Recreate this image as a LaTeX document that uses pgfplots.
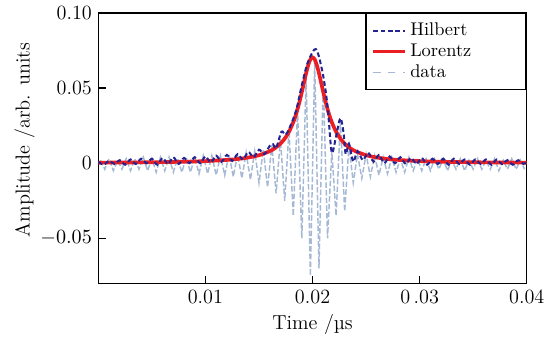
\documentclass[border=0pt]{standalone}
\usepackage{pgfplots}
\pgfplotsset{compat=1.18}
\definecolor{hilb}{RGB}{35,35,145}
\definecolor{lor}{RGB}{235,30,35}
\definecolor{dat}{RGB}{165,185,212}
\begin{document}
\begin{tikzpicture}
\begin{axis}[
  scale only axis,
  width=233pt, height=147pt,
  xmin=0, xmax=0.04, ymin=-0.08, ymax=0.10,
  xtick={0.01,0.02,0.03,0.04},
  xticklabels={0.01,0.02,{0\,.03},0.04},
  ytick={-0.05,0,0.05,0.1},
  yticklabels={$-0.05$,0,0.05,0.10},
  scaled ticks=false,
  tick align=inside,
  xtick pos=bottom, ytick pos=left,
  major tick length=4pt,
  axis line style={line width=0.7pt},
  every tick/.style={black, line width=0.7pt},
  tick label style={font=\fontsize{11}{13}\selectfont},
  label style={font=\fontsize{11}{13}\selectfont},
  xlabel={Time /µs},
  ylabel={Amplitude /arb. units},
  xlabel style={at={(axis description cs:0.5,0)}, anchor=center, yshift=-22.3pt},
  ylabel style={at={(axis description cs:-0.172,0.53)}, anchor=center, rotate=0},
  legend style={at={(1,1)}, anchor=north east, draw=black, line width=0.7pt,
    font=\fontsize{10}{12}\selectfont, inner sep=3pt, row sep=-1pt},
  legend cell align=left,
  clip=true,
]
\addlegendimage{hilb, line width=1.1pt, dash pattern=on 2.5pt off 1.5pt}
\addlegendentry{\makebox[58pt][l]{Hilbert}}
\addlegendimage{lor, line width=2pt}
\addlegendentry{Lorentz}
\addlegendimage{dat, line width=0.8pt, dash pattern=on 4pt off 4pt}
\addlegendentry{data}

% data
\addplot[dat, line width=0.8pt, dash pattern=on 3pt off 1.2pt, forget plot] coordinates {
(0.0002,0.002)(0.0006,-0.004)(0.0010,0.003)(0.0014,-0.005)(0.0018,0.002)
(0.0022,-0.004)(0.0026,0.003)(0.0030,-0.005)(0.0034,0.003)(0.0038,-0.004)
(0.0042,0.004)(0.0046,-0.005)(0.0050,0.003)(0.0054,-0.006)(0.0058,0.004)
(0.0062,-0.005)(0.0066,0.004)(0.0070,-0.006)(0.0074,0.003)(0.0078,-0.006)
(0.0082,0.004)(0.0086,-0.006)(0.0090,0.004)(0.0094,-0.007)(0.0098,0.005)
(0.0102,-0.007)(0.0106,0.005)(0.0110,-0.008)(0.0114,0.005)(0.0118,-0.008)
(0.0122,0.006)(0.0126,-0.009)(0.0130,0.006)(0.0134,-0.010)(0.0138,0.007)
(0.0142,-0.011)(0.0146,0.008)(0.0150,-0.013)(0.0154,0.009)(0.0158,-0.016)
(0.0162,0.012)(0.0166,-0.020)(0.0170,0.016)(0.0174,-0.025)(0.0178,0.022)
(0.0182,-0.035)(0.0186,0.035)(0.0190,-0.050)(0.0194,0.058)(0.0198,-0.075)
(0.0202,0.068)(0.0206,-0.070)(0.0210,0.055)(0.0214,-0.050)(0.0218,0.008)
(0.0222,-0.035)(0.0226,0.028)(0.0230,-0.032)(0.0234,0.012)(0.0238,-0.013)
(0.0242,0.006)(0.0246,-0.010)(0.0250,0.006)(0.0254,-0.009)(0.0258,0.005)
(0.0262,-0.008)(0.0266,0.004)(0.0270,-0.007)(0.0274,0.004)(0.0278,-0.006)
(0.0282,0.003)(0.0286,-0.006)(0.0290,0.004)(0.0294,-0.005)(0.0298,0.003)
(0.0302,-0.005)(0.0306,0.003)(0.0310,-0.005)(0.0314,0.003)(0.0318,-0.004)
(0.0322,0.003)(0.0326,-0.005)(0.0330,0.002)(0.0334,-0.004)(0.0338,0.003)
(0.0342,-0.005)(0.0346,0.002)(0.0350,-0.004)(0.0354,0.003)(0.0358,-0.004)
(0.0362,0.002)(0.0366,-0.004)(0.0370,0.003)(0.0374,-0.005)(0.0378,0.002)
(0.0382,-0.004)(0.0386,0.003)(0.0390,-0.004)(0.0394,0.002)(0.0398,-0.004)
};

% Lorentz fit
\addplot[lor, line width=2pt, smooth, forget plot] coordinates {
(0.000,0.00036)(0.005,0.00063)(0.008,0.00099)(0.010,0.00141)(0.012,0.00218)
(0.013,0.00282)(0.014,0.00379)(0.015,0.00533)(0.016,0.00799)(0.0165,0.01009)
(0.017,0.01305)(0.0174,0.01637)(0.0178,0.02094)(0.0182,0.02728)(0.0185,0.03357)
(0.0188,0.04137)(0.0190,0.04735)(0.0192,0.05369)(0.0194,0.05995)(0.0196,0.06538)
(0.0198,0.06915)(0.0200,0.0705)(0.0202,0.06915)(0.0204,0.06538)(0.0206,0.05995)
(0.0208,0.05369)(0.0210,0.04735)(0.0212,0.04137)(0.0215,0.03357)(0.0218,0.02728)
(0.0222,0.02094)(0.0226,0.01637)(0.0230,0.01305)(0.0235,0.01009)(0.0240,0.00799)
(0.0250,0.00533)(0.0260,0.00379)(0.0270,0.00282)(0.0280,0.00218)(0.0300,0.00141)
(0.0320,0.00099)(0.0350,0.00063)(0.0400,0.00036)
};

% Hilbert envelope
\addplot[hilb, line width=1.1pt, dash pattern=on 2.5pt off 1.5pt, smooth, tension=0.5, forget plot] coordinates {
(0.0000,0.0010)(0.0005,-0.0010)(0.0010,0.0015)(0.0015,-0.0005)(0.0020,0.0020)
(0.0025,-0.0010)(0.0030,0.0025)(0.0035,-0.0005)(0.0040,0.0030)(0.0045,0.0000)
(0.0050,0.0030)(0.0055,-0.0010)(0.0060,0.0035)(0.0065,-0.0005)(0.0070,0.0040)
(0.0075,-0.0005)(0.0080,0.0035)(0.0085,0.0000)(0.0090,0.0040)(0.0095,0.0000)
(0.0100,0.0045)(0.0105,0.0005)(0.0110,0.0050)(0.0115,0.0010)(0.0120,0.0055)
(0.0125,0.0015)(0.0130,0.0060)(0.0135,0.0025)(0.0140,0.0075)(0.0145,0.0040)
(0.0150,0.0090)(0.0155,0.0060)(0.0160,0.0115)(0.0163,0.0127)(0.0166,0.0100)
(0.0171,0.0210)(0.0175,0.0190)(0.0180,0.0260)(0.0185,0.0360)(0.0190,0.0520)
(0.0195,0.0660)(0.0200,0.0740)(0.0203,0.0760)(0.0206,0.0710)(0.0210,0.0580)
(0.0213,0.0440)(0.0215,0.0300)(0.0218,0.0070)(0.0222,0.0180)(0.0226,0.0300)
(0.0229,0.0200)(0.0231,0.0060)(0.0234,0.0130)(0.0238,0.0010)(0.0242,0.0080)
(0.0247,0.0020)(0.0252,0.0070)(0.0257,0.0010)(0.0262,0.0055)(0.0267,0.0000)
(0.0272,0.0045)(0.0277,0.0000)(0.0282,0.0040)(0.0287,-0.0005)(0.0292,0.0035)
(0.0297,-0.0005)(0.0302,0.0035)(0.0307,-0.0010)(0.0312,0.0030)(0.0317,-0.0005)
(0.0322,0.0030)(0.0327,-0.0010)(0.0332,0.0030)(0.0337,-0.0005)(0.0342,0.0025)
(0.0347,-0.0010)(0.0352,0.0025)(0.0357,-0.0005)(0.0362,0.0025)(0.0367,-0.0010)
(0.0372,0.0025)(0.0377,-0.0005)(0.0382,0.0020)(0.0387,-0.0010)(0.0392,0.0020)
(0.0397,-0.0005)(0.0400,0.0010)
};
\end{axis}
\path ([shift={(-53.5pt,-29.4pt)}]current axis.south west) rectangle ([shift={(13.2pt,6pt)}]current axis.north east);
\end{tikzpicture}
\end{document}
